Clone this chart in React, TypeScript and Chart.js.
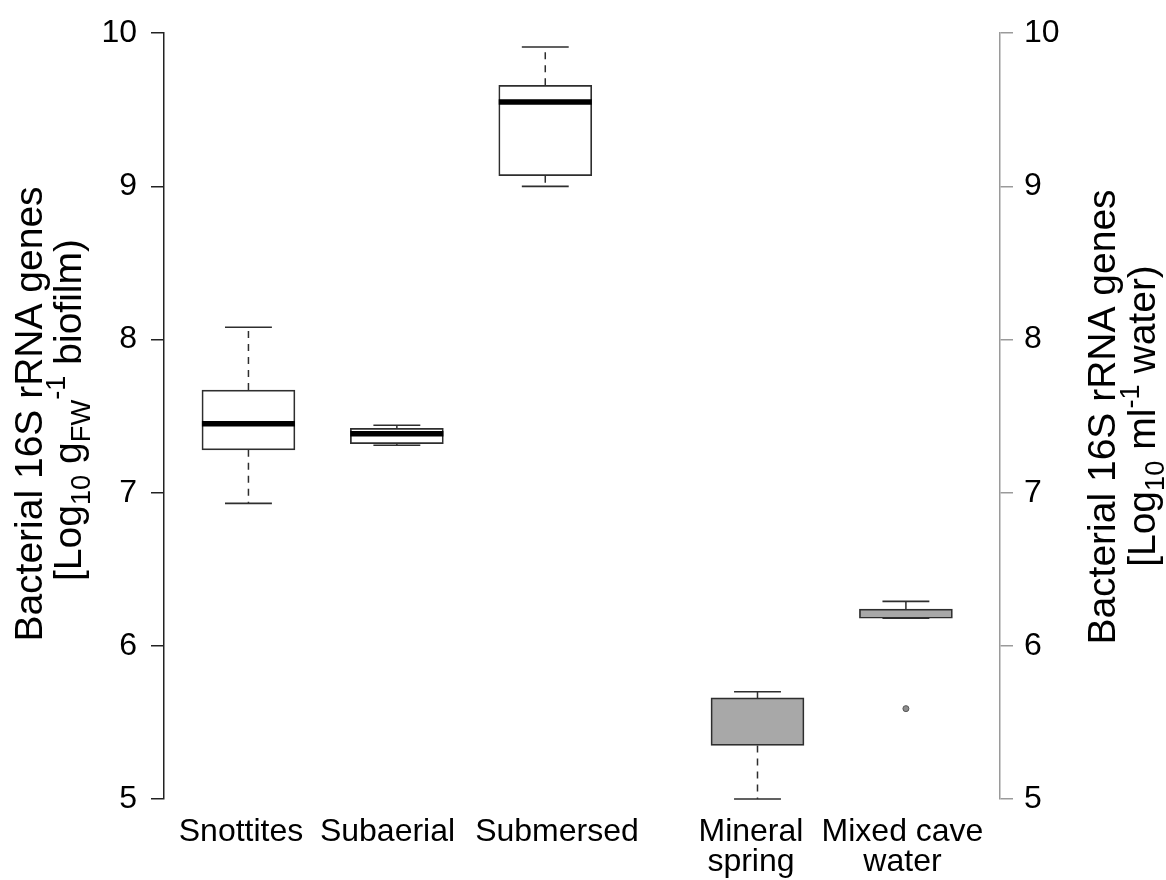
import React, { useEffect, useRef } from "react";
import { Chart, registerables } from "chart.js";

Chart.register(...registerables);

// ---------------- data ----------------
const categories = ["Snottites", "Subaerial", "Submersed", "Mineral\nspring", "Mixed cave\nwater"];
const positions = [1, 2, 3, 4.43, 5.43];
const labelPositions = [0.95, 1.937, 3.079, 4.386, 5.407];
const sampleType = ["biofilm", "biofilm", "biofilm", "water", "water"];
const whiskerLow = [6.93, 7.31, 9.0, 5.0, 6.18];
const q1 = [7.28, 7.32, 9.07, 5.35, 6.18];
const median: (number | null)[] = [7.45, 7.385, 9.55, null, null];
const q3 = [7.67, 7.42, 9.66, 5.66, 6.24];
const whiskerHigh = [8.08, 7.44, 9.91, 5.7, 6.29];
const outliers: number[][] = [[], [], [], [], [5.59]];
const yTicks = [5, 6, 7, 8, 9, 10];

type Run = [string, "" | "sub" | "sup"];
const leftTitleLine1: Run[] = [["Bacterial 16S rRNA genes", ""]];
const leftTitleLine2: Run[] = [
  ["[Log", ""],
  ["10", "sub"],
  [" g", ""],
  ["FW", "sub"],
  ["-1", "sup"],
  [" biofilm)", ""],
];
const rightTitleLine1: Run[] = [["Bacterial 16S rRNA genes", ""]];
const rightTitleLine2: Run[] = [
  ["[Log", ""],
  ["10", "sub"],
  [" ml", ""],
  ["-1", "sup"],
  [" water)", ""],
];

// ---------------- styling ----------------
const FONT = '"Liberation Sans", Arial, Helvetica, sans-serif';
const BOX_HALF = 0.3135; // half box width in x units
const CAP_HALF = 0.158; // half staple width in x units
const LINE = "#2e2e2e";

function drawRotated(ctx: CanvasRenderingContext2D, runs: Run[], baselineX: number, centerY: number, size: number) {
  ctx.save();
  ctx.translate(baselineX, centerY);
  ctx.rotate(-Math.PI / 2);
  ctx.fillStyle = "#000";
  ctx.textAlign = "left";
  ctx.textBaseline = "alphabetic";
  const parts = runs.map(([t, k]) => {
    const s = k ? size * 0.7 : size;
    ctx.font = `${s}px ${FONT}`;
    return { t, k, s, w: ctx.measureText(t).width };
  });
  const total = parts.reduce((a, p) => a + p.w, 0);
  let x = -total / 2;
  for (const p of parts) {
    ctx.font = `${p.s}px ${FONT}`;
    const dy = p.k === "sub" ? size * 0.22 : p.k === "sup" ? -size * 0.4 : 0;
    ctx.fillText(p.t, x, dy);
    x += p.w;
  }
  ctx.restore();
}

const titlePlugin = {
  id: "axisTitles",
  afterDraw(chart: any) {
    const ctx = chart.ctx as CanvasRenderingContext2D;
    drawRotated(ctx, leftTitleLine1, 42, 414, 39);
    drawRotated(ctx, leftTitleLine2, 81, 410, 39);
    drawRotated(ctx, rightTitleLine1, 1115, 417, 39);
    drawRotated(ctx, rightTitleLine2, 1155, 416, 39);
  },
};

function segments(pairs: [number, number, number, number][]) {
  const out: { x: number; y: number | null }[] = [];
  pairs.forEach(([x1, y1, x2, y2]) => {
    out.push({ x: x1, y: y1 }, { x: x2, y: y2 }, { x: x2, y: null });
  });
  return out;
}

export default function App() {
  const ref = useRef<HTMLCanvasElement>(null);

  useEffect(() => {
    document.body.style.margin = "0";
    Chart.defaults.font.family = FONT;
    const canvas = ref.current!;

    const boxData = positions.map((p, i) => ({ x: p, y: [q1[i], q3[i]] }));
    const medianData = segments(
      positions
        .map((p, i) => [p, median[i]] as [number, number | null])
        .filter(([, m]) => m !== null)
        .map(([p, m]) => [p - BOX_HALF, m as number, p + BOX_HALF, m as number])
    );
    const whiskerData = segments(
      positions.flatMap((p, i) => [
        [p, q3[i], p, whiskerHigh[i]] as [number, number, number, number],
        [p, q1[i], p, whiskerLow[i]] as [number, number, number, number],
      ])
    );
    const capData = segments(
      positions.flatMap((p, i) => [
        [p - CAP_HALF, whiskerHigh[i], p + CAP_HALF, whiskerHigh[i]] as [number, number, number, number],
        [p - CAP_HALF, whiskerLow[i], p + CAP_HALF, whiskerLow[i]] as [number, number, number, number],
      ])
    );
    const outlierData = positions.flatMap((p, i) => outliers[i].map((v) => ({ x: p, y: v })));

    const chart = new Chart(canvas, {
      type: "bar",
      data: {
        datasets: [
          {
            type: "line",
            label: "median",
            data: medianData as any,
            borderColor: "#000",
            borderWidth: 5.5,
            pointRadius: 0,
            borderCapStyle: "butt",
            order: 0,
            clip: false as any,
          },
          {
            type: "scatter",
            label: "outliers",
            data: outlierData as any,
            pointRadius: 3,
            backgroundColor: "#8c8c8c",
            borderColor: "#555",
            borderWidth: 1,
            order: 1,
            clip: false as any,
          },
          {
            type: "line",
            label: "caps",
            data: capData as any,
            borderColor: LINE,
            borderWidth: 1.6,
            pointRadius: 0,
            order: 2,
            clip: false as any,
          },
          {
            type: "bar",
            label: "box",
            data: boxData as any,
            backgroundColor: sampleType.map((t) => (t === "water" ? "#a8a8a8" : "#ffffff")),
            borderColor: LINE,
            borderWidth: 1.7,
            borderSkipped: false,
            barThickness: 93,
            order: 3,
            clip: false as any,
          },
          {
            type: "line",
            label: "whiskers",
            data: whiskerData as any,
            borderColor: LINE,
            borderWidth: 1.5,
            borderDash: [7, 6],
            pointRadius: 0,
            order: 4,
            clip: false as any,
          },
        ] as any,
      },
      options: {
        responsive: false,
        animation: false,
        devicePixelRatio: 1,
        events: [],
        layout: { padding: { top: 32, left: 0, right: 0, bottom: 0 } },
        plugins: { legend: { display: false }, tooltip: { enabled: false } },
        scales: {
          x: {
            type: "linear",
            min: 0.431,
            max: 6.064,
            offset: false,
            afterBuildTicks: (s: any) => {
              s.ticks = labelPositions.map((v) => ({ value: v }));
            },
            ticks: {
              autoSkip: false,
              maxRotation: 0,
              minRotation: 0,
              padding: 18,
              color: "#000",
              font: { size: 32, lineHeight: 0.95 },
              callback: (_v: any, i: number) => categories[i].split("\n"),
            },
            grid: { display: false, drawTicks: false },
            border: { display: false },
            afterFit: (s: any) => {
              s.height = 81;
            },
          },
          y: {
            type: "linear",
            position: "left",
            min: 5,
            max: 10,
            afterBuildTicks: (s: any) => {
              s.ticks = yTicks.map((v) => ({ value: v }));
            },
            ticks: { color: "#000", padding: 14, font: { size: 32 }, callback: (v: any) => String(v) },
            grid: { display: true, drawOnChartArea: false, drawTicks: true, tickLength: 13, color: "#222", lineWidth: 1.5 },
            border: { display: true, color: "#222", width: 1.5 },
            afterFit: (s: any) => {
              s.width = 164;
            },
          },
          y2: {
            type: "linear",
            position: "right",
            min: 5,
            max: 10,
            afterBuildTicks: (s: any) => {
              s.ticks = yTicks.map((v) => ({ value: v }));
            },
            ticks: { color: "#000", padding: 11, font: { size: 32 }, callback: (v: any) => String(v) },
            grid: { display: true, drawOnChartArea: false, drawTicks: true, tickLength: 13, color: "#9a9a9a", lineWidth: 1.5 },
            border: { display: true, color: "#9a9a9a", width: 1.5 },
            afterFit: (s: any) => {
              s.width = 166;
            },
          },
        },
      } as any,
      plugins: [titlePlugin],
    });

    return () => chart.destroy();
  }, []);

  return <canvas ref={ref} width={1166} height={880} style={{ display: "block" }} />;
}
